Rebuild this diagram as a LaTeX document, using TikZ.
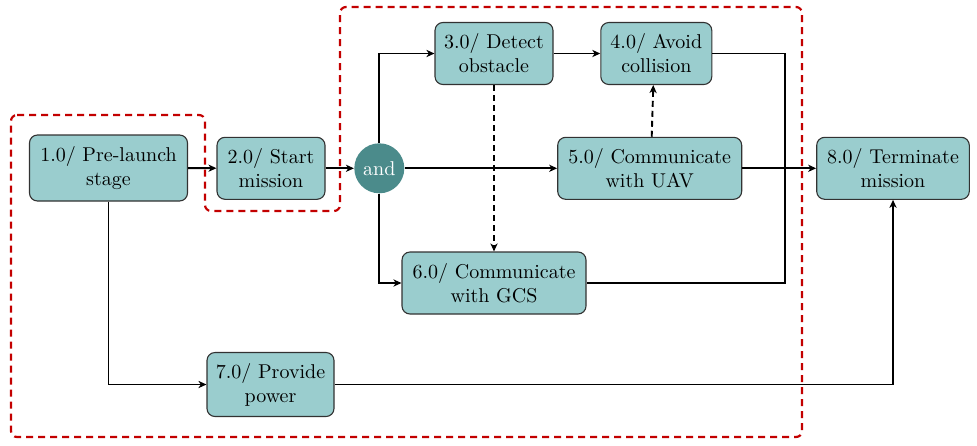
\documentclass[tikz,border=0pt]{standalone}
\usetikzlibrary{arrows.meta,calc}
\definecolor{boxfill}{RGB}{154,205,206}
\definecolor{andfill}{RGB}{75,139,139}
\definecolor{boxline}{RGB}{50,50,50}
\definecolor{regred}{RGB}{195,0,0}
\begin{document}
\begin{tikzpicture}[x=0.5pt,y=-0.5pt,
  proc/.style={draw=boxline,line width=0.55pt,fill=boxfill,rounded corners=4pt,align=center,minimum height=31pt,inner sep=2pt,font=\normalsize},
  andnode/.style={circle,fill=andfill,text=white,minimum size=25pt,inner sep=0pt},
  conn/.style={line width=0.95pt,black},
  arr/.style={conn,-{Stealth[length=4pt,width=3.6pt,inset=1.2pt]}},
  darr/.style={arr,dash pattern=on 3pt off 2pt},
  region/.style={draw=regred,line width=1.1pt,dash pattern=on 3.5pt off 2.5pt,rounded corners=3pt}]
\useasboundingbox (0,0) rectangle (977,445);
% region
\draw[region] (11,115) -- (205,115) -- (205,211) -- (340,211) -- (340,7) -- (802,7) -- (802,437) -- (11,437) -- cycle;
% nodes
\node[proc,minimum width=79pt,minimum height=33pt] (n1) at (108.5,168) {1.0/ Pre-launch\\stage};
\node[proc,minimum width=54pt] (n2) at (271,168.3) {2.0/ Start\\mission};
\node[andnode] (and) at (379.3,168.3) {and};
\node[proc,minimum width=59pt] (n3) at (494,53.5) {3.0/ Detect\\obstacle};
\node[proc,minimum width=55.5pt] (n4) at (656.3,53.5) {4.0/ Avoid\\collision};
\node[proc,minimum width=92pt] (n5) at (649.7,168.3) {5.0/ Communicate\\with UAV};
\node[proc,minimum width=92pt] (n6) at (494,283) {6.0/ Communicate\\with GCS};
\node[proc,minimum width=76.3pt] (n8) at (893,168.3) {8.0/ Terminate\\mission};
\node[proc,minimum width=63.5pt,minimum height=32pt] (n7) at (270.5,384.5) {7.0/ Provide\\power};
\coordinate (j) at (785,168.3);
% connectors
\draw[arr] (n1) -- (n2);
\draw[arr] (n2) -- (and);
\draw[arr] (and) -- (n5);
\draw[arr] (and.north) |- (n3.west);
\draw[arr] (and.south) |- (n6.west);
\draw[arr] (n3) -- (n4);
\draw[darr] (n3.south) -- (n6.north);
\draw[darr] ($(n5.north)+(2,0)$) -- ($(n4.south)+(-3,0)$);
\draw[conn] (n4.east) -| (j) |- (n6.east);
\draw[arr] (n5) -- (n8);
\draw[arr] (n1.south) |- (n7.west);
\draw[arr] (n7.east) -| (n8.south);
\end{tikzpicture}
\end{document}
